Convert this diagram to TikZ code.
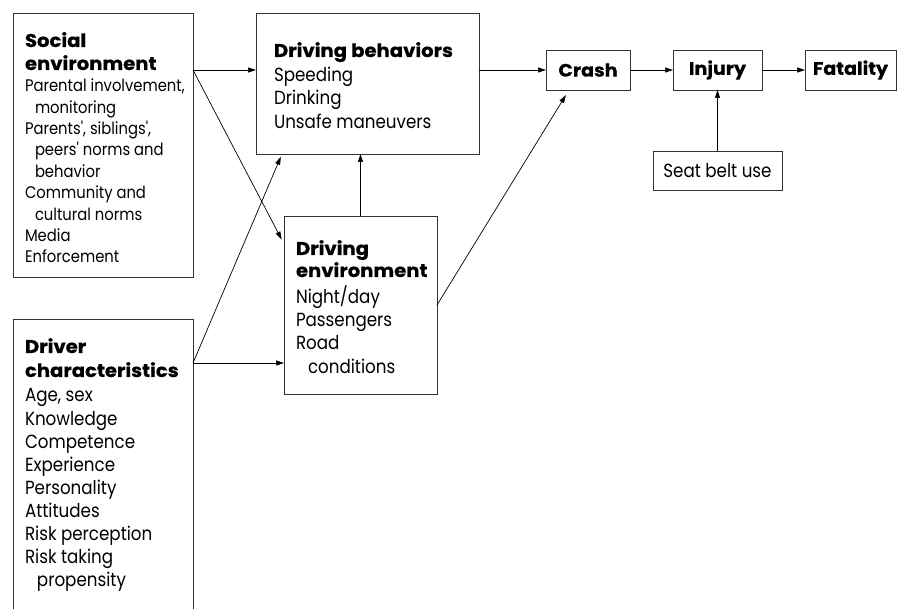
\documentclass[tikz,border=0pt]{standalone}
\usepackage{fontspec}
\setmainfont{Poppins}[FakeStretch=0.88]
\newfontfamily\headf{Poppins}[FakeStretch=1.06,FakeBold=0.6]
\newfontfamily\plainf{Poppins}[FakeStretch=0.88,Ligatures=TeXOff]
\newcommand\apo{{\plainf'}}
\usetikzlibrary{arrows.meta,calc}
\begin{document}
\begin{tikzpicture}[x=1pt,y=-1pt,
  box/.style={draw=black!80,line width=0.9pt,inner sep=0pt,outer sep=0pt,anchor=north west},
  hidden/.style={inner sep=0pt,outer sep=0pt,anchor=north west},
  boxline/.style={draw=black!80,line width=0.9pt},
  txt/.style={inner sep=0pt,outer sep=0pt,anchor=base west,align=left},
  bigf/.style={font=\fontsize{19}{23.3}\selectfont},
  smallf/.style={font=\fontsize{16.8}{21.4}\selectfont},
  headfont/.style={font=\fontsize{18.5}{#1}\selectfont\headf\bfseries},
  lbl/.style={inner sep=0pt,font=\fontsize{18}{22}\selectfont\headf\bfseries},
  arr/.style={line width=0.7pt,-{Triangle[length=8pt,width=5pt]}},
]
\useasboundingbox (0,0) rectangle (898,609);
% boxes
\node[box,minimum width=180pt,minimum height=264pt] (soc) at (13,13) {};
\node[hidden,minimum width=180pt,minimum height=300pt] (drv) at (13,319) {};
\draw[boxline] (drv.south west) |- (drv.north east) -- (drv.south east);
\node[box,minimum width=223pt,minimum height=141pt] (beh) at (256,13) {};
\node[box,minimum width=153pt,minimum height=178pt] (env) at (284,216) {};
\node[box,minimum width=84pt,minimum height=40pt] (crash) at (546,50) {};
\node[box,minimum width=89pt,minimum height=40pt] (inj) at (673,50) {};
\node[box,minimum width=91pt,minimum height=40pt] (fat) at (805,50) {};
\node[box,minimum width=129pt,minimum height=39pt] (seat) at (653,151) {};
% texts (base anchor = baseline of the last line)
\node[txt,headfont=23] (socH) at (25,70) {Social\\environment};
\node[txt,smallf] (socL) at (25,262.9) {Parental involvement,\\\hspace*{10pt}monitoring\\Parents\apo, siblings\apo,\\\hspace*{10pt}peers\apo{} norms and\\\hspace*{10pt}behavior\\Community and\\\hspace*{10pt}cultural norms\\Media\\Enforcement};
\node[txt,headfont=23] (behH) at (274,57) {Driving behaviors};
\node[txt,bigf] (behL) at (274,128.3) {Speeding\\Drinking\\Unsafe maneuvers};
\node[txt,headfont=22] (envH) at (296,277) {Driving\\environment};
\node[txt,bigf] (envL) at (296,373.2) {Night/day\\Passengers\\Road\\\hspace*{12pt}conditions};
\node[txt,headfont=24] (drvH) at (25,377) {Driver\\characteristics};
\node[txt,font=\fontsize{19}{23.1}\selectfont] (drvL) at (25,586.8) {Age, sex\\Knowledge\\Competence\\Experience\\Personality\\Attitudes\\Risk perception\\Risk taking\\\hspace*{12pt}propensity};
\node[lbl] (crashT) at (crash.center) {Crash};
\node[lbl] (injT) at (inj.center) {Injury};
\node[lbl] (fatT) at (fat.center) {Fatality};
\node[inner sep=0pt,font=\fontsize{19}{22}\selectfont] (seatT) at (seat.center) {Seat belt use};
% connectors
\coordinate (sO) at (soc.north east |- crash.west);
\coordinate (dO) at ($(drv.north east)+(0,44)$);
\draw[arr] (sO) -- (beh.west |- crash.west);
\draw[arr] (beh.east |- crash.west) -- (crash.west);
\draw[arr] (crash.east) -- (inj.west);
\draw[arr] (inj.east) -- (fat.west);
\draw[arr] (seat.north) -- (inj.south);
\draw[arr] (env.north) -- (env.north |- beh.south);
\draw[arr,shorten >=5pt] (sO) -- ($(env.north west)+(0,28)$);
\draw[arr] (dO) -- (dO -| env.west);
\draw[arr,shorten >=3pt] (dO) -- ($(beh.south west)+(26,0)$);
\draw[arr,shorten >=6pt] (env.east) -- ($(crash.south west)+(23,0)$);
\end{tikzpicture}
\end{document}
